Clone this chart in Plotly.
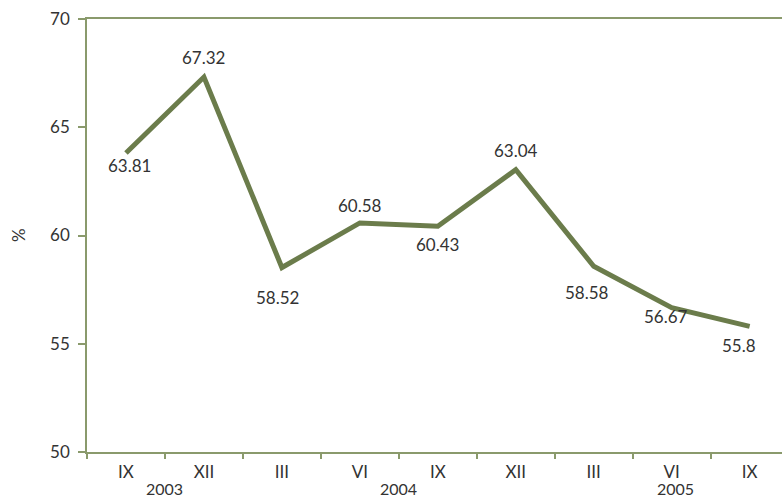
import plotly.graph_objects as go

months = ["IX", "XII", "III", "VI", "IX", "XII", "III", "VI", "IX"]
values = [63.81, 67.32, 58.52, 60.58, 60.43, 63.04, 58.58, 56.67, 55.8]
value_labels = ["63.81", "67.32", "58.52", "60.58", "60.43", "63.04", "58.58", "56.67", "55.8"]
years = ["2003", "2004", "2005"]
year_pos = [0.5, 3.5, 7.05]

# label offsets (px) relative to each point
label_dx = [4, 0, -4, 0, 0, 0, -7, -6, -11]
label_dy = [-12, 20, -30, 17, -18, 19, -26, -9, -19]

x = list(range(len(values)))
FONT = "Lato"
LINE = "#6b7c4b"
AXIS = "#8a9a6c"
TXT = "#333333"

fig = go.Figure()
fig.add_trace(go.Scatter(x=x, y=values, mode="lines",
                         line=dict(color=LINE, width=5), hoverinfo="skip"))

for xi, v, t, dx, dy in zip(x, values, value_labels, label_dx, label_dy):
    fig.add_annotation(x=xi, y=v, text=t, showarrow=False, xshift=dx, yshift=dy,
                       font=dict(family=FONT, size=17, color=TXT))

for yr, p in zip(years, year_pos):
    fig.add_annotation(x=p, y=0, yref="paper", text=yr, showarrow=False, yshift=-36,
                       yanchor="middle", font=dict(family=FONT, size=16, color=TXT))

fig.add_annotation(x=0, xref="paper", xshift=-81, y=0.5, yref="paper", text="%",
                   showarrow=False, textangle=-90,
                   font=dict(family=FONT, size=17, color=TXT))

fig.update_layout(
    width=782, height=499,
    margin=dict(l=87, r=0, t=19, b=47),
    plot_bgcolor="white", paper_bgcolor="white",
    showlegend=False,
    font=dict(family=FONT, size=17, color=TXT),
    xaxis=dict(range=[-0.5, 8.415], tickvals=x, ticktext=months, ticks="",
               showgrid=False, zeroline=False, showline=True, linecolor=AXIS,
               linewidth=1.5, mirror=True, ticklabelstandoff=4, automargin=False,
               minor=dict(tick0=0.5, dtick=1, ticks="outside", ticklen=5,
                          tickcolor=AXIS, tickwidth=1.5, showgrid=False)),
    yaxis=dict(range=[50, 70], tickvals=[50, 55, 60, 65, 70], ticks="outside",
               ticklen=7, tickcolor=AXIS, tickwidth=1.5, showgrid=False,
               zeroline=False, showline=True, linecolor=AXIS, linewidth=1.5,
               ticklabelstandoff=5, automargin=False),
)

fig.write_html("out.html", config={"displayModeBar": False},
               post_script="document.body.style.margin='0px';document.body.style.overflow='hidden';")
